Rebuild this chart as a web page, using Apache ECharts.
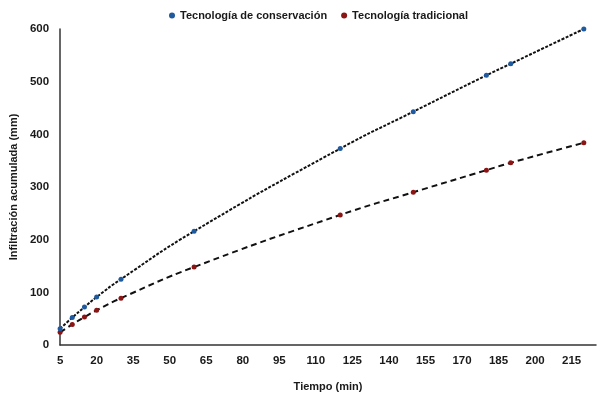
<!DOCTYPE html>
<html>
<head>
<meta charset="utf-8">
<script src="https://cdn.jsdelivr.net/npm/echarts@6/dist/echarts.min.js"></script>
<style>
  html, body { margin: 0; padding: 0; background: #fff; }
  #chart { width: 605px; height: 397px; }
</style>
</head>
<body>
<div id="chart"></div>
<script>
// Data
const tiempo = [5, 10, 15, 20, 30, 60, 120, 150, 180, 190, 220];
const conservacion = [31, 52, 72, 91, 125, 216, 373, 443, 512, 534, 600];
const tradicional = [24, 39, 53, 66, 89, 148, 247, 290, 332, 346, 384];

const font = '"Liberation Sans Narrow", "Liberation Sans", Arial, sans-serif';
const txt = '#1a1a1a';

function pairs(xs, ys) {
    return xs.map((x, i) => [x, ys[i]]);
}

const chart = echarts.init(document.getElementById('chart'));

chart.setOption({
    backgroundColor: '#fff',
    animation: false,
    legend: {
        top: 5,
        left: 164,
        itemGap: 14,
        itemWidth: 6,
        itemHeight: 6,
        icon: 'circle',
        textStyle: { fontFamily: font, fontSize: 11, fontWeight: 'bold', color: txt },
        data: ['Tecnología de conservación', 'Tecnología tradicional']
    },
    grid: { left: 53, right: 9, top: 29, bottom: 50, containLabel: false },
    xAxis: {
        type: 'value',
        min: 5,
        max: 225,
        interval: 15,
        name: 'Tiempo (min)',
        nameLocation: 'middle',
        nameGap: 36,
        nameTextStyle: { fontFamily: font, fontSize: 11, fontWeight: 'bold', color: txt },
        axisLine: { show: true, lineStyle: { color: '#333', width: 1.5 } },
        axisTick: { show: false },
        splitLine: { show: false },
        axisLabel: { showMaxLabel: false, margin: 10, fontFamily: font, fontSize: 11.5, fontWeight: 'bold', color: txt }
    },
    yAxis: {
        type: 'value',
        min: 0,
        max: 600,
        interval: 100,
        name: 'Infiltración acumulada (mm)',
        nameLocation: 'middle',
        nameGap: 38,
        nameTextStyle: { fontFamily: font, fontSize: 11, fontWeight: 'bold', color: txt },
        axisLine: { show: true, lineStyle: { color: '#333', width: 1.5 } },
        axisTick: { show: false },
        splitLine: { show: false },
        axisLabel: { margin: 11, fontFamily: font, fontSize: 11.5, fontWeight: 'bold', color: txt }
    },
    series: [
        {
            name: 'Tecnología de conservación',
            type: 'line',
            smooth: true,
            data: pairs(tiempo, conservacion),
            symbol: 'circle',
            symbolSize: 5,
            itemStyle: { color: '#1f5a9e' },
            lineStyle: { color: '#111', width: 2, type: [3, 1.5] },
            z: 3
        },
        {
            name: 'Tecnología tradicional',
            type: 'line',
            smooth: true,
            data: pairs(tiempo, tradicional),
            symbol: 'circle',
            symbolSize: 5,
            itemStyle: { color: '#8b1414' },
            lineStyle: { color: '#111', width: 2, type: [6, 4] },
            z: 2
        }
    ]
});
</script>
</body>
</html>
